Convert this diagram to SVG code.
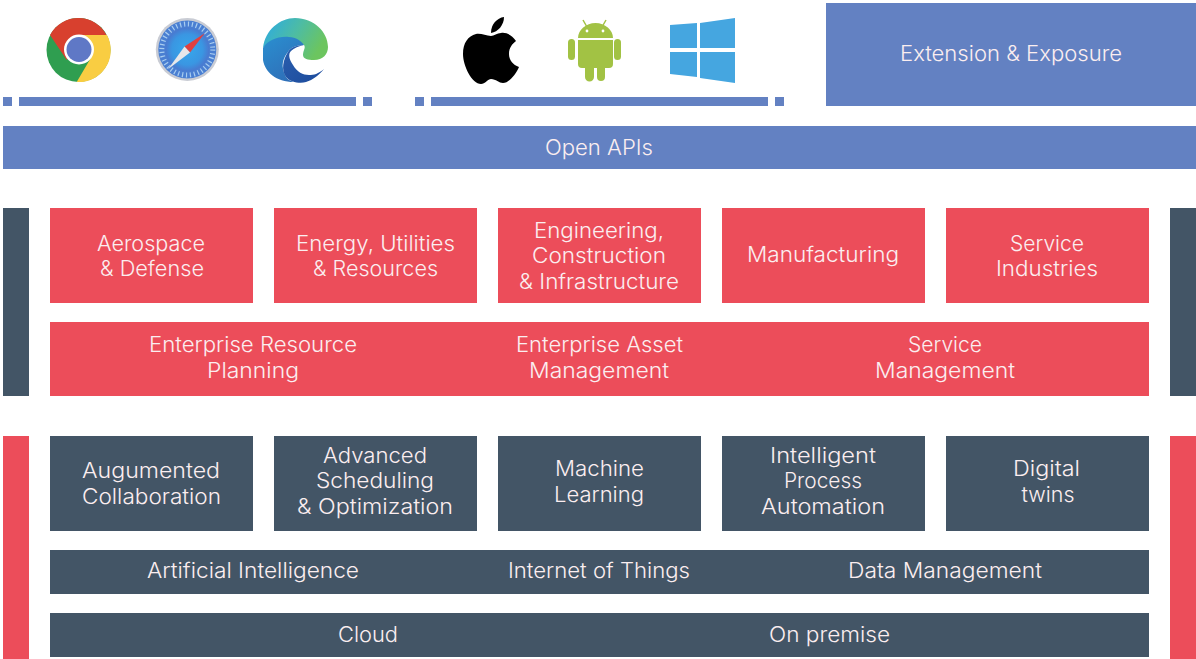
<svg xmlns="http://www.w3.org/2000/svg" width="1196" height="659" viewBox="0 0 1196 659">
<defs>
<linearGradient id="edgeTop" x1="0" y1="0" x2="1" y2="0.400"><stop offset="0.150" stop-color="#33aed6"/><stop offset="0.550" stop-color="#4dbca4"/><stop offset="1" stop-color="#6cc55f"/></linearGradient>
<linearGradient id="edgeMid" x1="0" y1="0" x2="0.600" y2="1"><stop offset="0" stop-color="#2a8fd0"/><stop offset="1" stop-color="#2f6fb8"/></linearGradient>
<linearGradient id="edgeDark" x1="0" y1="0" x2="1" y2="1"><stop offset="0" stop-color="#2a5fae"/><stop offset="1" stop-color="#1c4a9c"/></linearGradient>
<radialGradient id="safariFace"><stop offset="0" stop-color="#35a8ec"/><stop offset="0.700" stop-color="#3a96e2"/><stop offset="1" stop-color="#4a78cf"/></radialGradient>
</defs>
<style>
.b{fill:#6381c2}.r{fill:#ec4d5a}.s{fill:#435566}
text{font-family:"Inter","Noto Sans","Liberation Sans",sans-serif;font-size:21px;font-weight:300;fill:#fbeef0;text-anchor:middle}
</style>
<rect width="1196" height="659" fill="#fff"/>
<g id="chrome">
<circle cx="78.500" cy="50" r="32" fill="#2f9e50"/>
<path d="M50 35A32 32 0 0 1 107 36L79 35L66.700 60Z" fill="#d8402e"/>
<path d="M107 35A32 32 0 0 1 76.700 82L92 56L79 35Z" fill="#f9cd42"/>
<circle cx="79" cy="49.500" r="15" fill="#fff"/>
<circle cx="79" cy="49.500" r="12.500" fill="#5f78c6"/>
</g>
<g id="safari">
<circle cx="187.300" cy="49.500" r="31.500" fill="#c9ccd4"/>
<circle cx="187.300" cy="49.500" r="29" fill="#4a7fd2"/>
<circle cx="187.300" cy="49.500" r="25.500" fill="none" stroke="#a9cdf0" stroke-width="5" stroke-dasharray="1.200 2.800"/>
<circle cx="187.300" cy="49.500" r="22" fill="url(#safariFace)"/>
<path d="M204.700 33.300L184.500 46.500L190 52.500Z" fill="#e0403f"/>
<path d="M168 69.300L184.500 46.500L190 52.500Z" fill="#e7e7ea"/>
</g>
<g id="edge">
<path d="M263 48C265 30 280 18 295 18C314 18 328 32 328 47C328 54 323 60 314 60C308 60 303 59 303 55C303 50 306 48 304 45C292 38 272 38 263 48Z" fill="url(#edgeTop)"/>
<path d="M263 48C268 40 278 36 289 37C296 37 301 41 304 45C296 45 290 48 288 52C283 58 280 66 286 77C288 80 291 81 294 82C276 82 265 72 263 60Z" fill="url(#edgeMid)"/>
<path d="M304 45C296 45 290 48 288 52C283 60 281 70 286 77C290 82 300 84 306 82C313 80 319 75 324 69C318 74 314 75 309 75C303 75 297 72 293 65C289 59 288 54 291 51C294 48 299 46 304 45Z" fill="url(#edgeDark)"/>
</g>
<g id="apple">
<path d="M491 36C486 36 481 33 476 34C468 36 463 43 463 54C463 66 472 84 481 84C485 84 488 79 491 79C496 79 499 83 503 83C509 83 516 74 519 67C513 65 509 60 509 54C509 48 512 44 516 41C512 35 506 32 501 33C497 33 494 36 491 36Z" fill="#000"/>
<path d="M491 33C491 24 497 18 504 17C504 25 498 32 491 33Z" fill="#000"/>
</g>
<g id="android" fill="#a2c244">
<path d="M578 38C578 30 586 23 595.500 23C605 23 613 30 613 38Z"/>
<path d="M578 40H613V64A4 4 0 0 1 609 68H605V77A4 4 0 0 1 597 77V68H594V77A4.500 4.500 0 0 1 585 77V68H582A4 4 0 0 1 578 64Z"/>
<rect x="568" y="39" width="7" height="21" rx="3.500"/>
<rect x="614" y="39" width="7" height="21" rx="3.500"/>
<path d="M583 20L587 27M606 20L602 27" stroke="#a2c244" stroke-width="1.500" fill="none"/>
<circle cx="587" cy="31" r="1.400" fill="#fff"/><circle cx="603" cy="31" r="1.400" fill="#fff"/>
</g>
<g id="windows" fill="#45a6e0">
<path d="M670 25L697 23V48H670Z"/>
<path d="M700 23L735 18V48H700Z"/>
<path d="M670 52H697V77L670 74Z"/>
<path d="M700 52H735V83L700 78Z"/>
</g>
<g id="bars" class="b">
<rect x="3" y="97" width="9" height="9"/><rect x="19" y="97" width="337" height="9"/><rect x="363" y="97" width="9" height="9"/>
<rect x="415" y="97" width="9" height="9"/><rect x="431" y="97" width="337" height="9"/><rect x="775" y="97" width="9" height="9"/>
</g>
<g id="extension"><rect class="b" x="826" y="3" width="370" height="103"/><text x="1011" y="60.500" textLength="222" lengthAdjust="spacingAndGlyphs">Extension &amp; Exposure</text></g>
<g id="open-apis"><rect class="b" x="3" y="126" width="1193" height="43"/><text x="599" y="154.500" textLength="108" lengthAdjust="spacingAndGlyphs">Open APIs</text></g>
<g id="side-bars">
<rect class="s" x="3" y="208" width="26" height="188"/><rect class="s" x="1170" y="208" width="26" height="188"/>
<rect class="r" x="3" y="436" width="26" height="223"/><rect class="r" x="1170" y="436" width="26" height="223"/>
</g>
<g id="aerospace"><rect class="r" x="50" y="208" width="203" height="95"/><text x="151" y="250.500" textLength="108" lengthAdjust="spacingAndGlyphs">Aerospace</text><text x="152" y="276" textLength="104" lengthAdjust="spacingAndGlyphs">&amp; Defense</text></g>
<g id="energy"><rect class="r" x="274" y="208" width="203" height="95"/><text x="375.500" y="250.500" textLength="159" lengthAdjust="spacingAndGlyphs">Energy, Utilities</text><text x="375.500" y="276" textLength="125" lengthAdjust="spacingAndGlyphs">&amp; Resources</text></g>
<g id="engineering"><rect class="r" x="498" y="208" width="203" height="95"/><text x="599" y="237.500" textLength="130" lengthAdjust="spacingAndGlyphs">Engineering,</text><text x="599" y="262.500" textLength="134" lengthAdjust="spacingAndGlyphs">Construction</text><text x="599" y="288.500" textLength="160" lengthAdjust="spacingAndGlyphs">&amp; Infrastructure</text></g>
<g id="manufacturing"><rect class="r" x="722" y="208" width="203" height="95"/><text x="823" y="261.500" textLength="152" lengthAdjust="spacingAndGlyphs">Manufacturing</text></g>
<g id="service-industries"><rect class="r" x="946" y="208" width="203" height="95"/><text x="1047" y="250.500" textLength="74" lengthAdjust="spacingAndGlyphs">Service</text><text x="1047" y="276" textLength="102" lengthAdjust="spacingAndGlyphs">Industries</text></g>
<g id="enterprise"><rect class="r" x="50" y="322" width="1099" height="74"/>
<text x="253" y="352" textLength="208" lengthAdjust="spacingAndGlyphs">Enterprise Resource</text><text x="253" y="378" textLength="92" lengthAdjust="spacingAndGlyphs">Planning</text>
<text x="599.500" y="352" textLength="167" lengthAdjust="spacingAndGlyphs">Enterprise Asset</text><text x="599" y="378" textLength="140" lengthAdjust="spacingAndGlyphs">Management</text>
<text x="945" y="352" textLength="74" lengthAdjust="spacingAndGlyphs">Service</text><text x="945" y="378" textLength="140" lengthAdjust="spacingAndGlyphs">Management</text></g>
<g id="augmented"><rect class="s" x="50" y="436" width="203" height="95"/><text x="151" y="478" textLength="138" lengthAdjust="spacingAndGlyphs">Augumented</text><text x="151.500" y="503.500" textLength="139" lengthAdjust="spacingAndGlyphs">Collaboration</text></g>
<g id="scheduling"><rect class="s" x="274" y="436" width="203" height="95"/><text x="375" y="462.500" textLength="104" lengthAdjust="spacingAndGlyphs">Advanced</text><text x="375" y="488" textLength="118" lengthAdjust="spacingAndGlyphs">Scheduling</text><text x="375" y="514" textLength="156" lengthAdjust="spacingAndGlyphs">&amp; Optimization</text></g>
<g id="ml"><rect class="s" x="498" y="436" width="203" height="95"/><text x="599.500" y="476" textLength="89" lengthAdjust="spacingAndGlyphs">Machine</text><text x="599" y="501.500" textLength="90" lengthAdjust="spacingAndGlyphs">Learning</text></g>
<g id="ipa"><rect class="s" x="722" y="436" width="203" height="95"/><text x="823" y="462.500" textLength="106" lengthAdjust="spacingAndGlyphs">Intelligent</text><text x="823" y="488" textLength="78" lengthAdjust="spacingAndGlyphs">Process</text><text x="823" y="514" textLength="124" lengthAdjust="spacingAndGlyphs">Automation</text></g>
<g id="digital-twins"><rect class="s" x="946" y="436" width="203" height="95"/><text x="1046.500" y="476" textLength="67" lengthAdjust="spacingAndGlyphs">Digital</text><text x="1048" y="501.500" textLength="53" lengthAdjust="spacingAndGlyphs">twins</text></g>
<g id="ai-iot-data"><rect class="s" x="50" y="550" width="1099" height="44"/>
<text x="253" y="578" textLength="212" lengthAdjust="spacingAndGlyphs">Artificial Intelligence</text><text x="599" y="578" textLength="182" lengthAdjust="spacingAndGlyphs">Internet of Things</text><text x="945" y="578" textLength="194" lengthAdjust="spacingAndGlyphs">Data Management</text></g>
<g id="cloud-premise"><rect class="s" x="50" y="613" width="1099" height="44"/>
<text x="368" y="642" textLength="60" lengthAdjust="spacingAndGlyphs">Cloud</text><text x="829.500" y="642" textLength="121" lengthAdjust="spacingAndGlyphs">On premise</text></g>
</svg>
